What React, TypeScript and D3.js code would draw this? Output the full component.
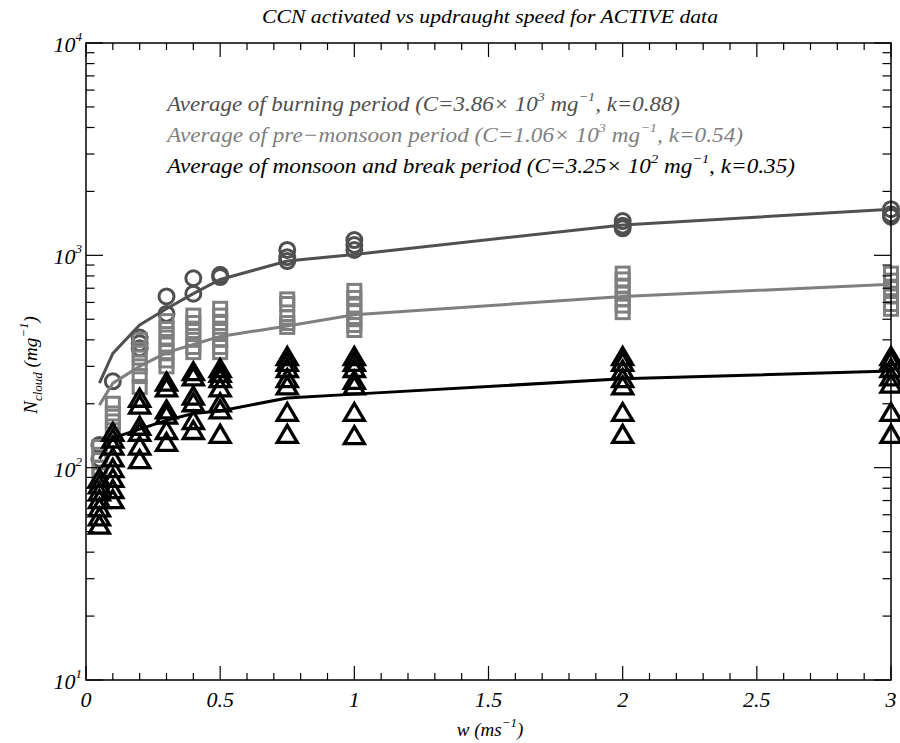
import React from "react";
import * as d3 from "d3";

const W = 900;
const H = 743;

// updraught speeds (m/s)
const wValues = [0.05, 0.1, 0.2, 0.3, 0.4, 0.5, 0.75, 1, 2, 3];

// observed N_cloud per updraught speed (mg^-1)
const burningObs = [
  [128, 110],
  [255],
  [410, 385, 365],
  [640, 530],
  [780, 660],
  [810, 790],
  [1060, 980, 940],
  [1180, 1120, 1060],
  [1450, 1380, 1340],
  [1650, 1560, 1520],
];
const premonsoonObs = [
  [125, 115, 100, 92],
  [200, 180, 165, 150],
  [400, 360, 330, 300, 270, 240],
  [490, 450, 410, 380, 350, 320, 300],
  [520, 480, 440, 400, 370, 350],
  [560, 520, 480, 440, 400, 370, 350],
  [620, 590, 510, 480, 460],
  [680, 630, 580, 540, 500, 470, 445],
  [820, 770, 720, 660, 620, 580, 540],
  [820, 760, 700, 640, 590, 560],
];
const monsoonObs = [
  [88, 82, 76, 70, 64, 58, 53],
  [145, 135, 125, 110, 98, 88, 78, 70],
  [210, 195, 155, 145, 125, 108],
  [250, 235, 185, 175, 148, 130],
  [280, 265, 215, 200, 165, 148],
  [290, 275, 260, 235, 200, 185, 142],
  [330, 310, 290, 260, 240, 180, 142],
  [330, 310, 290, 255, 240, 180, 140],
  [330, 310, 285, 260, 240, 180, 142],
  [330, 315, 290, 265, 245, 180, 142],
];

// period averages (fitted curves)
const burningAvg = [250, 345, 470, 560, 660, 770, 940, 1010, 1390, 1650];
const premonsoonAvg = [197, 250, 300, 348, 380, 415, 465, 525, 640, 730];
const monsoonAvg = [110, 138, 152, 167, 180, 185, 213, 222, 262, 285];

const xTicks = [0, 0.5, 1, 1.5, 2, 2.5, 3];
const xTickLabels = ["0", "0.5", "1", "1.5", "2", "2.5", "3"];
const yDecades = [10, 100, 1000, 10000];
const yDecadeExps = ["1", "2", "3", "4"];

const C_BURN = "#505050";
const C_PRE = "#7f7f7f";
const C_MON = "#000000";

const FONT = "'Liberation Serif', 'DejaVu Serif', serif";

export default function App() {
  const left = 86, right = 891, top = 43, bottom = 680;
  const x = d3.scaleLinear().domain([0, 3]).range([left, right]);
  const y = d3.scaleLog().domain([10, 10000]).range([bottom, top]);

  const xMinor = d3.range(0, 31).map((i) => i / 10).filter((v) => Math.abs(v * 2 - Math.round(v * 2)) > 1e-6);
  const yMinor: number[] = [];
  [10, 100, 1000].forEach((d) => {
    for (let m = 2; m <= 9; m++) yMinor.push(m * d);
  });

  const line = d3
    .line<number>()
    .x((_, i) => x(wValues[i]))
    .y((v) => y(v));

  const flat = (obs: number[][]) =>
    obs.flatMap((vals, i) => vals.map((v) => ({ w: wValues[i], v })));

  const tri = (cx: number, cy: number) =>
    `M${cx},${cy - 10}L${cx + 10},${cy + 7}L${cx - 10},${cy + 7}Z`;

  return (
    <svg width={W} height={H} style={{ display: "block", position: "absolute", left: 0, top: 0, background: "#fff" }} fontFamily={FONT}>
      <rect width={W} height={H} fill="#fff" />
      {/* title */}
      <text x={262} y={23} fontSize={19} fontStyle="italic" textLength={456} lengthAdjust="spacingAndGlyphs">
        CCN activated vs updraught speed for ACTIVE data
      </text>

      {/* markers */}
      <g fill="none" strokeWidth={3}>
        {flat(burningObs).map((d, i) => (
          <circle key={"b" + i} cx={x(d.w)} cy={y(d.v)} r={7.5} stroke={C_BURN} />
        ))}
        {flat(premonsoonObs).map((d, i) => (
          <rect key={"p" + i} x={x(d.w) - 6.5} y={y(d.v) - 6.5} width={13} height={13} stroke={C_PRE} />
        ))}
        {flat(monsoonObs).map((d, i) => (
          <path key={"m" + i} d={tri(x(d.w), y(d.v))} stroke={C_MON} strokeWidth={3.3} strokeLinejoin="miter" />
        ))}
      </g>

      {/* fitted lines */}
      <g fill="none" strokeWidth={3}>
        <path d={line(burningAvg) || ""} stroke={C_BURN} />
        <path d={line(premonsoonAvg) || ""} stroke={C_PRE} />
        <path d={line(monsoonAvg) || ""} stroke={C_MON} />
      </g>

      {/* axes box */}
      <rect x={left} y={top} width={right - left} height={bottom - top} fill="none" stroke="#000" strokeWidth={1.5} />
      <g stroke="#000" strokeWidth={1.2}>
        {xTicks.map((t) => (
          <g key={"xt" + t}>
            <line x1={x(t)} x2={x(t)} y1={bottom} y2={bottom - 14} />
            <line x1={x(t)} x2={x(t)} y1={top} y2={top + 14} />
          </g>
        ))}
        {xMinor.map((t) => (
          <g key={"xm" + t}>
            <line x1={x(t)} x2={x(t)} y1={bottom} y2={bottom - 7} />
            <line x1={x(t)} x2={x(t)} y1={top} y2={top + 7} />
          </g>
        ))}
        {yDecades.map((t) => (
          <g key={"yt" + t}>
            <line x1={left} x2={left + 17} y1={y(t)} y2={y(t)} />
            <line x1={right} x2={right - 17} y1={y(t)} y2={y(t)} />
          </g>
        ))}
        {yMinor.map((t) => (
          <g key={"ym" + t}>
            <line x1={left} x2={left + 8.5} y1={y(t)} y2={y(t)} />
            <line x1={right} x2={right - 8.5} y1={y(t)} y2={y(t)} />
          </g>
        ))}
      </g>

      {/* x tick labels */}
      {xTicks.map((t, i) => (
        <text key={"xl" + t} x={x(t)} y={bottom + 27} textAnchor="middle" fontSize={22} fontStyle="italic">
          {xTickLabels[i]}
        </text>
      ))}
      {/* y tick labels */}
      {yDecades.map((t, i) => (
        <text key={"yl" + t} x={left - 4} y={y(t) + 9} textAnchor="end" fontSize={22} fontStyle="italic">
          10<tspan dy={-11} fontSize={13}>{yDecadeExps[i]}</tspan>
        </text>
      ))}

      {/* axis titles */}
      <text x={490} y={736} textAnchor="middle" fontSize={19} fontStyle="italic">
        w (ms<tspan dy={-9} fontSize={13}>−1</tspan>
        <tspan dy={9}>)</tspan>
      </text>
      <text transform="translate(37,365) rotate(-90)" textAnchor="middle" fontSize={19} fontStyle="italic">
        N<tspan dy={5} fontSize={13}>cloud</tspan>
        <tspan dy={-5}> (mg</tspan>
        <tspan dy={-9} fontSize={13}>−1</tspan>
        <tspan dy={9}>)</tspan>
      </text>

      {/* legend */}
      <g fontSize={21} fontStyle="italic">
        <text x={167} y={111} fill={C_BURN} textLength={513} lengthAdjust="spacingAndGlyphs">
          Average of burning period (C=3.86× 10<tspan dy={-10} fontSize={13}>3</tspan>
          <tspan dy={10}> mg</tspan>
          <tspan dy={-10} fontSize={13}>−1</tspan>
          <tspan dy={10}>, k=0.88)</tspan>
        </text>
        <text x={167} y={142} fill={C_PRE} textLength={576} lengthAdjust="spacingAndGlyphs">
          Average of pre−monsoon period (C=1.06× 10<tspan dy={-10} fontSize={13}>3</tspan>
          <tspan dy={10}> mg</tspan>
          <tspan dy={-10} fontSize={13}>−1</tspan>
          <tspan dy={10}>, k=0.54)</tspan>
        </text>
        <text x={167} y={173} fill={C_MON} textLength={628} lengthAdjust="spacingAndGlyphs">
          Average of monsoon and break period (C=3.25× 10<tspan dy={-10} fontSize={13}>2</tspan>
          <tspan dy={10}> mg</tspan>
          <tspan dy={-10} fontSize={13}>−1</tspan>
          <tspan dy={10}>, k=0.35)</tspan>
        </text>
      </g>
    </svg>
  );
}
